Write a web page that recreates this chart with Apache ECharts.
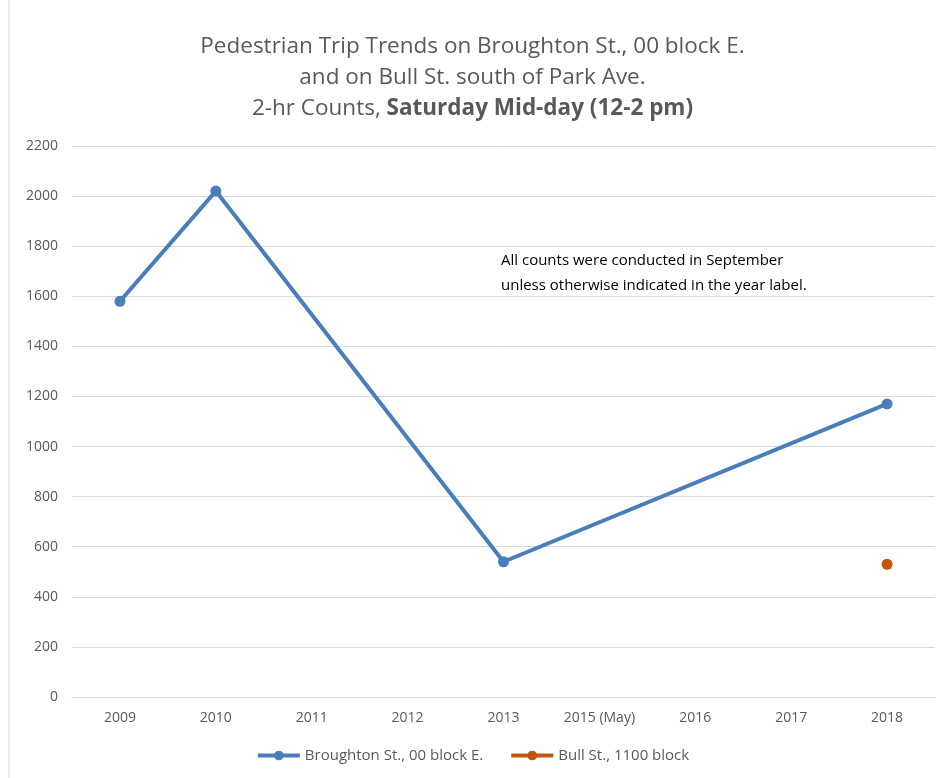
<!DOCTYPE html>
<html>
<head>
<meta charset="utf-8">
<script src="https://cdn.jsdelivr.net/npm/echarts@6/dist/echarts.min.js"></script>
<style>
  html, body { margin: 0; padding: 0; background: #fff; }
  #chart { width: 945px; height: 778px; }
</style>
</head>
<body>
<div id="chart"></div>
<script>
// 类目与数据
const years = ['2009', '2010', '2011', '2012', '2013', '2015 (May)', '2016', '2017', '2018']
const broughton = [1580, 2020, null, null, 540, null, null, null, 1170]
const bull = [null, null, null, null, null, null, null, null, 530]
const yTicks = { min: 0, max: 2200, interval: 200 }

const myChart = echarts.init(document.getElementById('chart'))
const font = 'Open Sans'
myChart.setOption({
  color: ['#4a7ebb', '#c0560b'],
  textStyle: { fontFamily: font },
  title: {
    text: '{n|Pedestrian Trip Trends on Broughton St., 00 block E.}\n{n|and on Bull St. south of Park Ave.}\n{n|2-hr Counts, }{b|Saturday Mid-day (12-2 pm)}',
    left: 'center',
    top: 26,
    textStyle: {
      fontWeight: 'normal',
      rich: {
        n: { fontSize: 22.5, color: '#595959', lineHeight: 31, fontWeight: 'normal', fontFamily: font },
        b: { fontSize: 22.5, color: '#595959', lineHeight: 31, fontWeight: 'bold', fontFamily: font }
      }
    }
  },
  legend: {
    bottom: 10,
    left: 'center',
    itemWidth: 42,
    itemHeight: 12,
    itemGap: 26,
    lineStyle: { width: 4 },
    textStyle: { color: '#595959', fontSize: 15, fontFamily: font },
    data: ['Broughton St., 00 block E.', 'Bull St., 1100 block']
  },
  grid: {
    left: 72,
    right: 10,
    top: 146,
    bottom: 81,
    containLabel: false
  },
  xAxis: {
    type: 'category',
    data: years,
    boundaryGap: true,
    axisLine: { lineStyle: { color: '#d9d9d9', width: 1 } },
    axisTick: { show: false },
    axisLabel: { color: '#595959', fontSize: 14, margin: 14 }
  },
  yAxis: {
    type: 'value',
    min: yTicks.min,
    max: yTicks.max,
    interval: yTicks.interval,
    axisLine: { show: false },
    axisTick: { show: false },
    splitLine: { lineStyle: { color: '#d9d9d9', width: 1 } },
    axisLabel: { color: '#595959', fontSize: 14, margin: 14, formatter: v => String(v) }
  },
  graphic: [
    {
      type: 'line',
      shape: { x1: 9, y1: 0, x2: 9, y2: 778 },
      style: { stroke: '#d9d9d9', lineWidth: 1 }
    },
    {
      type: 'text',
      left: 501,
      top: 248,
      style: {
        text: 'All counts were conducted in September\nunless otherwise indicated in the year label.',
        fontSize: 15,
        lineHeight: 25,
        fill: '#000',
        fontFamily: font
      }
    }
  ],
  series: [
    {
      name: 'Broughton St., 00 block E.',
      type: 'line',
      data: broughton,
      connectNulls: true,
      symbol: 'circle',
      symbolSize: 11,
      lineStyle: { width: 4 },
      silent: true
    },
    {
      name: 'Bull St., 1100 block',
      type: 'line',
      data: bull,
      symbol: 'circle',
      symbolSize: 11,
      lineStyle: { width: 4 },
      silent: true
    }
  ]
})
window.addEventListener('resize', () => {
  myChart.resize()
})
</script>
</body>
</html>
